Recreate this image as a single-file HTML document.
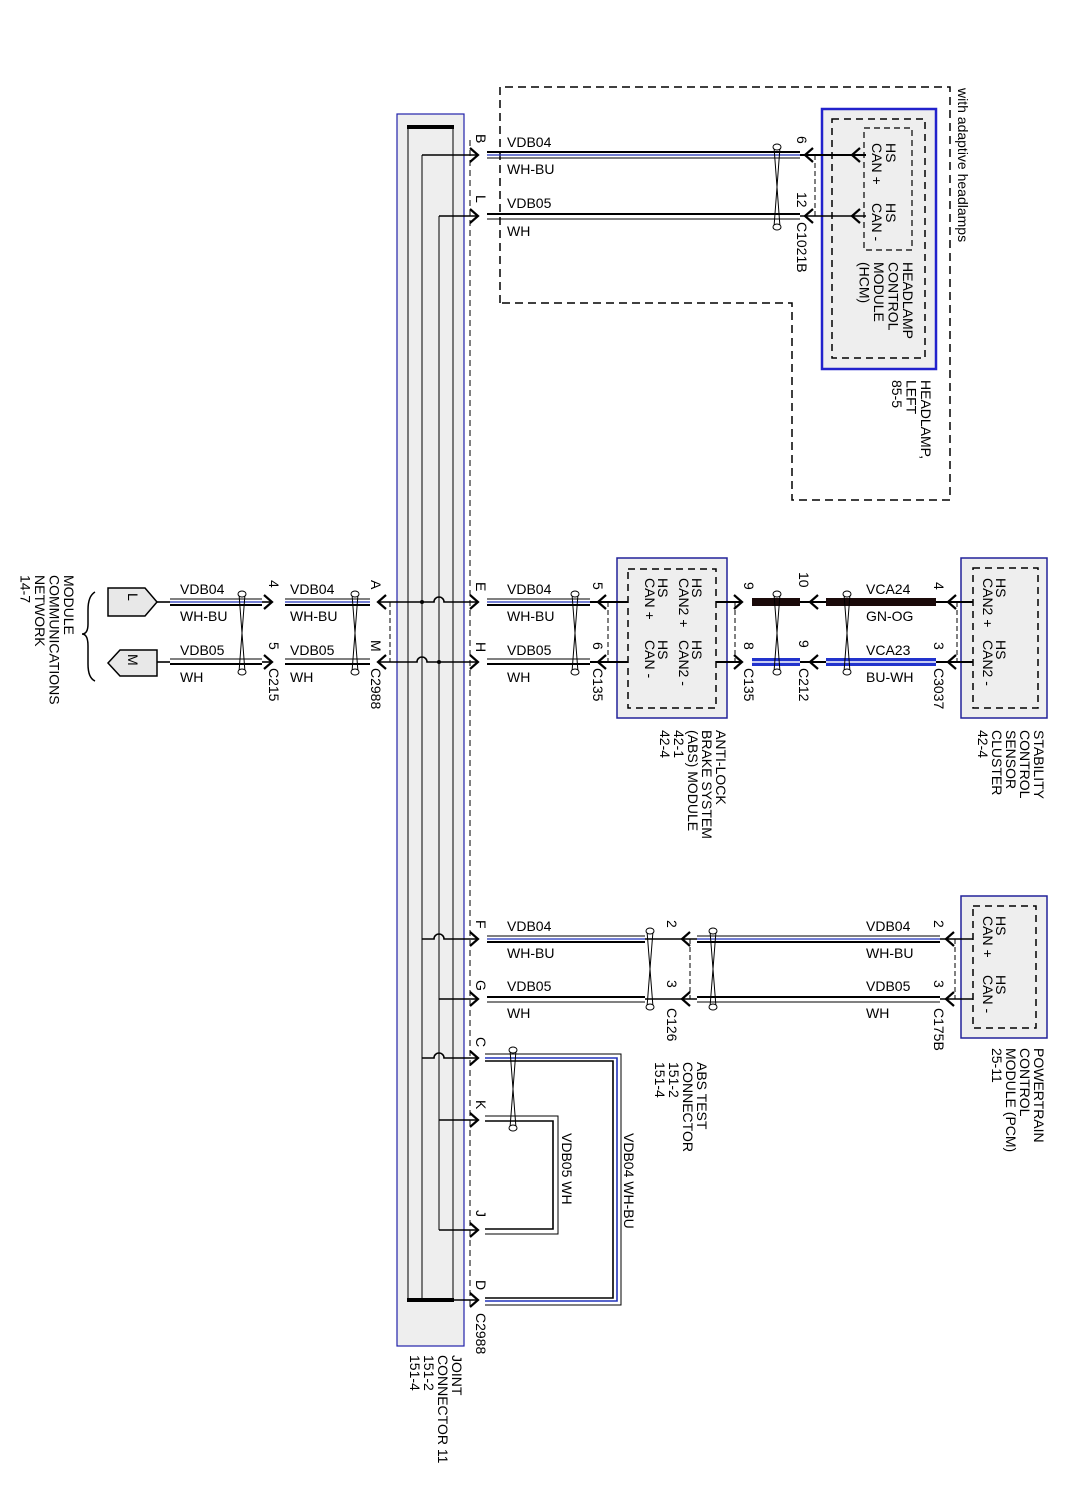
<!DOCTYPE html>
<html><head><meta charset="utf-8"><style>
html,body{margin:0;padding:0;background:#fff}
svg{display:block}
text{font-family:"Liberation Sans",Arial,sans-serif;font-size:14px;fill:#000}
</style></head><body>
<svg width="1085" height="1490" viewBox="0 0 1085 1490" xmlns="http://www.w3.org/2000/svg">
<defs>
<path id="ar" d="M-8,-7 L0,0 L-8,7" fill="none" stroke="#000" stroke-width="2.2"/>
<path id="al" d="M8,-7 L0,0 L8,7" fill="none" stroke="#000" stroke-width="2.2"/>
</defs>

<!-- Headlamp dashed outline -->
<path d="M500,303 V87 H950 V500 H792 V303 Z" fill="none" stroke="#000" stroke-width="1.5" stroke-dasharray="8 5"/>
<rect x="822" y="109" width="114" height="260" fill="#eee" stroke="#2222cc" stroke-width="2.5"/>
<rect x="832" y="119" width="93" height="239" fill="none" stroke="#000" stroke-width="1.5" stroke-dasharray="7 5"/>
<rect x="864" y="128" width="48" height="122" fill="none" stroke="#000" stroke-width="1.2" stroke-dasharray="6 4"/>

<!-- ABS, stability, PCM boxes -->
<rect x="617" y="558" width="110" height="160" fill="#eee" stroke="#22229a" stroke-width="1.5"/>
<rect x="628" y="569" width="88" height="139" fill="none" stroke="#000" stroke-width="1.5" stroke-dasharray="7 5"/>
<rect x="961" y="558" width="86" height="160" fill="#eee" stroke="#22229a" stroke-width="1.5"/>
<rect x="973" y="568" width="65" height="140" fill="none" stroke="#000" stroke-width="1.5" stroke-dasharray="7 5"/>
<rect x="961" y="896" width="86" height="142" fill="#eee" stroke="#22229a" stroke-width="1.5"/>
<rect x="973" y="906" width="63" height="122" fill="none" stroke="#000" stroke-width="1.5" stroke-dasharray="7 5"/>

<!-- Joint connector -->
<rect x="397" y="114" width="67" height="1232" fill="#eee" stroke="#2222aa" stroke-width="1.2"/>
<line x1="408" y1="127" x2="408" y2="1300" stroke="#000" stroke-width="1"/>
<line x1="453" y1="127" x2="453" y2="1300" stroke="#000" stroke-width="1"/>
<line x1="407" y1="127" x2="454" y2="127" stroke="#000" stroke-width="4"/>
<line x1="407" y1="1300" x2="454" y2="1300" stroke="#000" stroke-width="4"/>
<line x1="422" y1="155" x2="422" y2="1300" stroke="#000" stroke-width="1"/>
<line x1="439" y1="216" x2="439" y2="1230" stroke="#000" stroke-width="1"/>
<line x1="470" y1="140" x2="470" y2="1310" stroke="#000" stroke-width="1" stroke-dasharray="6 4"/>

<!-- Bus taps -->
<g stroke="#000" stroke-width="1.6" fill="none">
<line x1="422" y1="155" x2="478" y2="155"/>
<line x1="439" y1="216" x2="478" y2="216"/>
<path d="M378,602 H434 A5,5 0 0 1 444,602 H478"/>
<path d="M378,662 H417 A5,5 0 0 1 427,662 H478"/>
<path d="M422,939 H434 A5,5 0 0 1 444,939 H478"/>
<line x1="439" y1="999" x2="478" y2="999"/>
<path d="M422,1058 H434 A5,5 0 0 1 444,1058 H478"/>
<line x1="439" y1="1120" x2="478" y2="1120"/>
<line x1="439" y1="1230" x2="478" y2="1230"/>
<line x1="422" y1="1300" x2="478" y2="1300"/>
</g>
<circle cx="422" cy="602" r="2" fill="#000"/>
<circle cx="439" cy="662" r="2" fill="#000"/>

<!-- arrows at joint connector -->
<use href="#ar" x="478" y="155"/><use href="#ar" x="478" y="216"/>
<use href="#ar" x="478" y="602"/><use href="#ar" x="478" y="662"/>
<use href="#ar" x="478" y="939"/><use href="#ar" x="478" y="999"/>
<use href="#ar" x="478" y="1058"/><use href="#ar" x="478" y="1120"/>
<use href="#ar" x="478" y="1230"/><use href="#ar" x="478" y="1300"/>
<use href="#al" x="378" y="602"/><use href="#al" x="378" y="662"/>

<!-- wire pairs -->
<g fill="none">
<!-- HCM rows -->
<line x1="487" y1="152" x2="800" y2="152" stroke="#000" stroke-width="2"/>
<line x1="487" y1="155" x2="800" y2="155" stroke="#2233bb" stroke-width="1.2"/>
<line x1="487" y1="158" x2="800" y2="158" stroke="#000" stroke-width="1"/>
<line x1="487" y1="214" x2="800" y2="214" stroke="#000" stroke-width="2"/>
<line x1="487" y1="219" x2="800" y2="219" stroke="#000" stroke-width="1"/>
<!-- left rows -->
<line x1="170" y1="599" x2="262" y2="599" stroke="#000" stroke-width="1"/>
<line x1="170" y1="602" x2="262" y2="602" stroke="#2233bb" stroke-width="1.2"/>
<line x1="170" y1="605" x2="262" y2="605" stroke="#000" stroke-width="2"/>
<line x1="285" y1="599" x2="370" y2="599" stroke="#000" stroke-width="1"/>
<line x1="285" y1="602" x2="370" y2="602" stroke="#2233bb" stroke-width="1.2"/>
<line x1="285" y1="605" x2="370" y2="605" stroke="#000" stroke-width="2"/>
<line x1="170" y1="659" x2="262" y2="659" stroke="#000" stroke-width="1"/>
<line x1="170" y1="664" x2="262" y2="664" stroke="#000" stroke-width="2"/>
<line x1="285" y1="659" x2="370" y2="659" stroke="#000" stroke-width="1"/>
<line x1="285" y1="664" x2="370" y2="664" stroke="#000" stroke-width="2"/>
<line x1="157" y1="602" x2="170" y2="602" stroke="#000" stroke-width="1.6"/>
<line x1="157" y1="662" x2="170" y2="662" stroke="#000" stroke-width="1.6"/>
<line x1="262" y1="602" x2="272" y2="602" stroke="#000" stroke-width="1.6"/>
<line x1="262" y1="662" x2="272" y2="662" stroke="#000" stroke-width="1.6"/>
<!-- ABS rows -->
<line x1="487" y1="599" x2="590" y2="599" stroke="#000" stroke-width="1"/>
<line x1="487" y1="602" x2="590" y2="602" stroke="#2233bb" stroke-width="1.2"/>
<line x1="487" y1="605" x2="590" y2="605" stroke="#000" stroke-width="2"/>
<line x1="487" y1="659" x2="590" y2="659" stroke="#000" stroke-width="1"/>
<line x1="487" y1="664" x2="590" y2="664" stroke="#000" stroke-width="2"/>
<!-- PCM rows -->
<line x1="487" y1="936" x2="645" y2="936" stroke="#000" stroke-width="1"/>
<line x1="487" y1="939" x2="645" y2="939" stroke="#2233bb" stroke-width="1.2"/>
<line x1="487" y1="942" x2="645" y2="942" stroke="#000" stroke-width="2"/>
<line x1="697" y1="936" x2="940" y2="936" stroke="#000" stroke-width="1"/>
<line x1="697" y1="939" x2="940" y2="939" stroke="#2233bb" stroke-width="1.2"/>
<line x1="697" y1="942" x2="940" y2="942" stroke="#000" stroke-width="2"/>
<line x1="487" y1="997" x2="645" y2="997" stroke="#000" stroke-width="2"/>
<line x1="487" y1="1002" x2="645" y2="1002" stroke="#000" stroke-width="1"/>
<line x1="697" y1="997" x2="940" y2="997" stroke="#000" stroke-width="2"/>
<line x1="697" y1="1002" x2="940" y2="1002" stroke="#000" stroke-width="1"/>
<!-- ABS test loops -->
<path d="M485,1054 H621 V1305 H485" stroke="#000" stroke-width="1"/>
<path d="M485,1058 H617 V1301 H485" stroke="#2233bb" stroke-width="1.6"/>
<path d="M485,1061 H613 V1298 H485" stroke="#000" stroke-width="1.6"/>
<path d="M485,1116 H558 V1234 H485" stroke="#000" stroke-width="1"/>
<path d="M485,1121 H553 V1229 H485" stroke="#000" stroke-width="1.6"/>
</g>

<!-- HCM side connectors -->
<g stroke="#000" stroke-width="2" fill="none">
<line x1="800" y1="155" x2="866" y2="155"/>
<line x1="800" y1="216" x2="866" y2="216" stroke-width="1.4"/>
<line x1="590" y1="602" x2="628" y2="602"/>
<line x1="590" y1="662" x2="628" y2="662"/>
<line x1="716" y1="602" x2="742" y2="602"/>
<line x1="716" y1="662" x2="742" y2="662"/>
<line x1="800" y1="602" x2="826" y2="602"/>
<line x1="800" y1="662" x2="826" y2="662"/>
<line x1="936" y1="602" x2="973" y2="602"/>
<line x1="936" y1="662" x2="973" y2="662"/>
<line x1="645" y1="939" x2="697" y2="939" stroke-width="1.4"/>
<line x1="645" y1="999" x2="697" y2="999" stroke-width="1.4"/>
<line x1="940" y1="939" x2="973" y2="939" stroke-width="1.4"/>
<line x1="940" y1="999" x2="973" y2="999" stroke-width="1.4"/>
</g>
<use href="#al" x="805" y="155"/><use href="#al" x="852" y="155"/>
<use href="#al" x="805" y="216"/><use href="#al" x="852" y="216"/>
<use href="#ar" x="272" y="602"/><use href="#ar" x="272" y="662"/>
<use href="#al" x="598" y="602"/><use href="#al" x="598" y="662"/>
<use href="#ar" x="742" y="602"/><use href="#ar" x="742" y="662"/>
<use href="#al" x="810" y="602"/><use href="#al" x="810" y="662"/>
<use href="#al" x="948" y="602"/><use href="#al" x="948" y="662"/>
<use href="#al" x="682" y="939"/><use href="#al" x="682" y="999"/>
<use href="#al" x="946" y="939"/><use href="#al" x="946" y="999"/>

<!-- thick bars -->
<rect x="752" y="598" width="48" height="8" fill="#1a0a0a"/>
<rect x="826" y="598" width="110" height="8" fill="#1a0a0a"/>
<rect x="752" y="658" width="48" height="8" fill="#2233cc"/>
<rect x="826" y="658" width="110" height="8" fill="#2233cc"/>
<line x1="752" y1="662" x2="800" y2="662" stroke="#fff" stroke-width="1.5"/>
<line x1="826" y1="662" x2="936" y2="662" stroke="#fff" stroke-width="1.5"/>

<!-- connector dashed shells -->
<g stroke="#000" stroke-width="1" stroke-dasharray="5 3">
<line x1="815" y1="155" x2="815" y2="216"/>
<line x1="390" y1="602" x2="390" y2="662"/>
<line x1="608" y1="602" x2="608" y2="662"/>
<line x1="735" y1="602" x2="735" y2="662"/>
<line x1="957" y1="602" x2="957" y2="662"/>
<line x1="690" y1="939" x2="690" y2="999"/>
<line x1="955" y1="939" x2="955" y2="999"/>
</g>

<!-- twists -->
<g stroke="#000" stroke-width="1" fill="#fff">
<path d="M774,147 L780,227 M780,147 L774,227" fill="none"/><ellipse cx="777" cy="147" rx="4" ry="3"/><ellipse cx="777" cy="227" rx="4" ry="3"/>
<path d="M239,594 L245,672 M245,594 L239,672" fill="none"/><ellipse cx="242" cy="594" rx="4" ry="3"/><ellipse cx="242" cy="672" rx="4" ry="3"/>
<path d="M352,594 L358,672 M358,594 L352,672" fill="none"/><ellipse cx="355" cy="594" rx="4" ry="3"/><ellipse cx="355" cy="672" rx="4" ry="3"/>
<path d="M572,594 L578,672 M578,594 L572,672" fill="none"/><ellipse cx="575" cy="594" rx="4" ry="3"/><ellipse cx="575" cy="672" rx="4" ry="3"/>
<path d="M774,594 L780,672 M780,594 L774,672" fill="none"/><ellipse cx="777" cy="594" rx="4" ry="3"/><ellipse cx="777" cy="672" rx="4" ry="3"/>
<path d="M844,594 L850,672 M850,594 L844,672" fill="none"/><ellipse cx="847" cy="594" rx="4" ry="3"/><ellipse cx="847" cy="672" rx="4" ry="3"/>
<path d="M647,931 L653,1007 M653,931 L647,1007" fill="none"/><ellipse cx="650" cy="931" rx="4" ry="3"/><ellipse cx="650" cy="1007" rx="4" ry="3"/>
<path d="M710,931 L716,1007 M716,931 L710,1007" fill="none"/><ellipse cx="713" cy="931" rx="4" ry="3"/><ellipse cx="713" cy="1007" rx="4" ry="3"/>
<path d="M510,1050 L516,1128 M516,1050 L510,1128" fill="none"/><ellipse cx="513" cy="1050" rx="4" ry="3"/><ellipse cx="513" cy="1128" rx="4" ry="3"/>
</g>

<!-- Left module boxes -->
<path d="M108,588 H145 L157,602 L145,616 H108 Z" fill="#e8e8e8" stroke="#000" stroke-width="1.5"/>
<path d="M157,650 H120 L108,663 L120,676 H157 Z" fill="#e8e8e8" stroke="#000" stroke-width="1.5"/>
<path d="M95,592 Q88,596 88,610 L88,624 Q88,634 82,634 Q88,634 88,646 L88,664 Q88,678 95,681" fill="none" stroke="#000" stroke-width="1.5"/>

<!-- horizontal labels -->
<text x="507" y="147">VDB04</text><text x="507" y="174">WH-BU</text>
<text x="507" y="208">VDB05</text><text x="507" y="236">WH</text>
<text x="180" y="594">VDB04</text><text x="180" y="621">WH-BU</text>
<text x="180" y="655">VDB05</text><text x="180" y="682">WH</text>
<text x="290" y="594">VDB04</text><text x="290" y="621">WH-BU</text>
<text x="290" y="655">VDB05</text><text x="290" y="682">WH</text>
<text x="507" y="594">VDB04</text><text x="507" y="621">WH-BU</text>
<text x="507" y="655">VDB05</text><text x="507" y="682">WH</text>
<text x="866" y="594">VCA24</text><text x="866" y="621">GN-OG</text>
<text x="866" y="655">VCA23</text><text x="866" y="682">BU-WH</text>
<text x="507" y="931">VDB04</text><text x="507" y="958">WH-BU</text>
<text x="507" y="991">VDB05</text><text x="507" y="1018">WH</text>
<text x="866" y="931">VDB04</text><text x="866" y="958">WH-BU</text>
<text x="866" y="991">VDB05</text><text x="866" y="1018">WH</text>

<!-- rotated labels -->
<g>
<text transform="translate(476,134) rotate(90)">B</text>
<text transform="translate(476,195) rotate(90)">L</text>
<text transform="translate(797,136) rotate(90)">6</text>
<text transform="translate(797,192) rotate(90)">12</text>
<text transform="translate(797,222) rotate(90)">C1021B</text>
<text transform="translate(886,143) rotate(90)"><tspan x="0">HS</tspan><tspan x="0" dy="14">CAN +</tspan></text>
<text transform="translate(886,203) rotate(90)"><tspan x="0">HS</tspan><tspan x="0" dy="14">CAN -</tspan></text>
<text transform="translate(903,262) rotate(90)"><tspan x="0">HEADLAMP</tspan><tspan x="0" dy="14.5">CONTROL</tspan><tspan x="0" dy="14.5">MODULE</tspan><tspan x="0" dy="14.5">(HCM)</tspan></text>
<text transform="translate(958,88) rotate(90)">with adaptive headlamps</text>
<text transform="translate(921,380) rotate(90)"><tspan x="0">HEADLAMP,</tspan><tspan x="0" dy="14.5">LEFT</tspan><tspan x="0" dy="14.5">85-5</tspan></text>

<text transform="translate(128,593) rotate(90)">L</text>
<text transform="translate(128,654) rotate(90)">M</text>
<text transform="translate(64,575) rotate(90)"><tspan x="0">MODULE</tspan><tspan x="0" dy="14.5">COMMUNICATIONS</tspan><tspan x="0" dy="14.5">NETWORK</tspan><tspan x="0" dy="14.5">14-7</tspan></text>
<text transform="translate(269,580) rotate(90)">4</text>
<text transform="translate(269,642) rotate(90)">5</text>
<text transform="translate(269,668) rotate(90)">C215</text>
<text transform="translate(371,580) rotate(90)">A</text>
<text transform="translate(371,640) rotate(90)">M</text>
<text transform="translate(371,668) rotate(90)">C2988</text>
<text transform="translate(476,582) rotate(90)">E</text>
<text transform="translate(476,642) rotate(90)">H</text>
<text transform="translate(593,582) rotate(90)">5</text>
<text transform="translate(593,642) rotate(90)">6</text>
<text transform="translate(593,668) rotate(90)">C135</text>
<text transform="translate(692,578) rotate(90)"><tspan x="0">HS</tspan><tspan x="0" dy="13">CAN2 +</tspan></text>
<text transform="translate(692,640) rotate(90)"><tspan x="0">HS</tspan><tspan x="0" dy="13">CAN2 -</tspan></text>
<text transform="translate(658,578) rotate(90)"><tspan x="0">HS</tspan><tspan x="0" dy="13">CAN +</tspan></text>
<text transform="translate(658,640) rotate(90)"><tspan x="0">HS</tspan><tspan x="0" dy="13">CAN -</tspan></text>
<text transform="translate(716,730) rotate(90)"><tspan x="0">ANTI-LOCK</tspan><tspan x="0" dy="14">BRAKE SYSTEM</tspan><tspan x="0" dy="14">(ABS) MODULE</tspan><tspan x="0" dy="14">42-1</tspan><tspan x="0" dy="14">42-4</tspan></text>
<text transform="translate(744,582) rotate(90)">9</text>
<text transform="translate(744,642) rotate(90)">8</text>
<text transform="translate(744,668) rotate(90)">C135</text>
<text transform="translate(799,572) rotate(90)">10</text>
<text transform="translate(799,640) rotate(90)">9</text>
<text transform="translate(799,668) rotate(90)">C212</text>
<text transform="translate(934,582) rotate(90)">4</text>
<text transform="translate(934,642) rotate(90)">3</text>
<text transform="translate(934,668) rotate(90)">C3037</text>
<text transform="translate(996,578) rotate(90)"><tspan x="0">HS</tspan><tspan x="0" dy="13">CAN2 +</tspan></text>
<text transform="translate(996,640) rotate(90)"><tspan x="0">HS</tspan><tspan x="0" dy="13">CAN2 -</tspan></text>
<text transform="translate(1034,730) rotate(90)"><tspan x="0">STABILITY</tspan><tspan x="0" dy="14">CONTROL</tspan><tspan x="0" dy="14">SENSOR</tspan><tspan x="0" dy="14">CLUSTER</tspan><tspan x="0" dy="14">42-4</tspan></text>

<text transform="translate(476,920) rotate(90)">F</text>
<text transform="translate(476,980) rotate(90)">G</text>
<text transform="translate(667,920) rotate(90)">2</text>
<text transform="translate(667,980) rotate(90)">3</text>
<text transform="translate(667,1008) rotate(90)">C126</text>
<text transform="translate(934,920) rotate(90)">2</text>
<text transform="translate(934,980) rotate(90)">3</text>
<text transform="translate(934,1008) rotate(90)">C175B</text>
<text transform="translate(996,916) rotate(90)"><tspan x="0">HS</tspan><tspan x="0" dy="13">CAN +</tspan></text>
<text transform="translate(996,975) rotate(90)"><tspan x="0">HS</tspan><tspan x="0" dy="13">CAN -</tspan></text>
<text transform="translate(1034,1048) rotate(90)"><tspan x="0">POWERTRAIN</tspan><tspan x="0" dy="14">CONTROL</tspan><tspan x="0" dy="14">MODULE (PCM)</tspan><tspan x="0" dy="14">25-11</tspan></text>
<text transform="translate(697,1062) rotate(90)"><tspan x="0">ABS TEST</tspan><tspan x="0" dy="14">CONNECTOR</tspan><tspan x="0" dy="14">151-2</tspan><tspan x="0" dy="14">151-4</tspan></text>

<text transform="translate(476,1037) rotate(90)">C</text>
<text transform="translate(476,1100) rotate(90)">K</text>
<text transform="translate(476,1210) rotate(90)">J</text>
<text transform="translate(476,1280) rotate(90)">D</text>
<text transform="translate(476,1313) rotate(90)">C2988</text>
<text transform="translate(624,1133) rotate(90)">VDB04   WH-BU</text>
<text transform="translate(562,1133) rotate(90)">VDB05   WH</text>
<text transform="translate(452,1355) rotate(90)"><tspan x="0">JOINT</tspan><tspan x="0" dy="14">CONNECTOR 11</tspan><tspan x="0" dy="14">151-2</tspan><tspan x="0" dy="14">151-4</tspan></text>
</g>
</svg>
</body></html>
